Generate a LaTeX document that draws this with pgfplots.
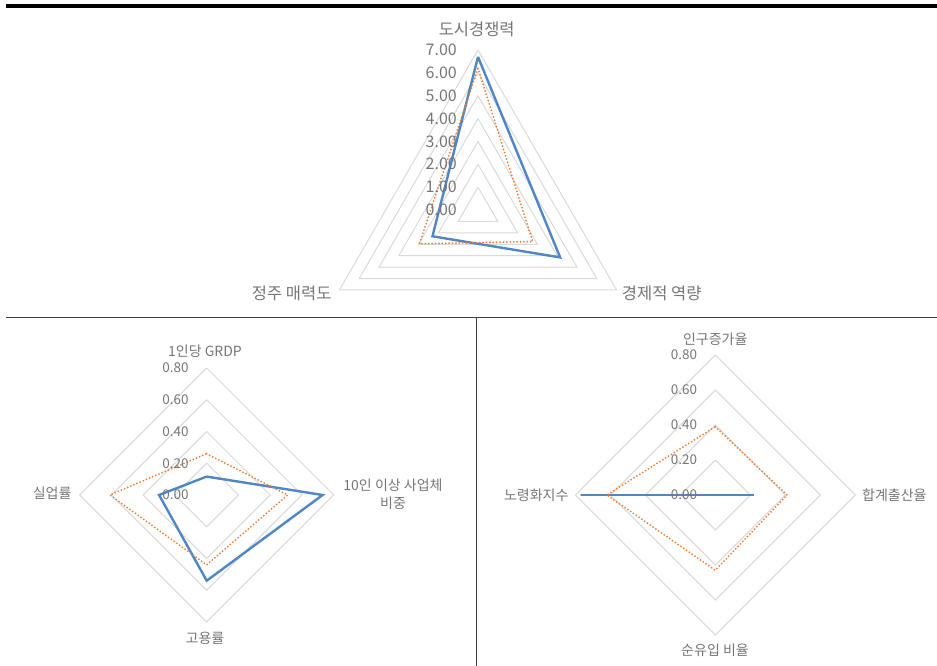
\documentclass[border=0pt]{standalone}
\usepackage{pgfplots}
\pgfplotsset{compat=1.18}
\usepgfplotslibrary{polar}
\usepackage{fontspec}
\setmainfont{Noto Sans CJK KR}
\definecolor{sblue}{HTML}{4F86C6}
\definecolor{sorange}{HTML}{ED7D31}
\definecolor{gridc}{HTML}{D9D9D9}
\definecolor{txt}{HTML}{767676}
\definecolor{framec}{HTML}{404040}
\pgfplotsset{
  radar/.style={hide axis, clip=false, anchor=center},
  gridl/.style={gridc, line width=1bp, data cs=polar, line join=miter},
  sera/.style={sblue, line width=2.4bp, data cs=polar, line join=miter},
  serb/.style={sorange, line width=2bp, data cs=polar, dash pattern=on 0pt off 3.4bp, line cap=round},
}
\tikzset{
  tlab/.style={anchor=east, inner sep=0pt, text=txt, font=\fontsize{16bp}{18bp}\selectfont, xshift=-21bp},
  blab/.style={anchor=east, inner sep=0pt, text=txt, font=\fontsize{13.5bp}{16bp}\selectfont, xshift=-18bp},
}
\begin{document}
\begin{tikzpicture}
\path[use as bounding box] (0,0) rectangle (937bp,666bp);
% frame lines
\fill[black] (6bp,658.3bp) rectangle (937bp,662bp);
\draw[framec, line width=1.5bp] (6bp,348.3bp) -- (937bp,348.3bp);
\draw[framec, line width=1.5bp] (476.7bp,348.3bp) -- (476.7bp,0bp);

% ---------- top chart ----------
\begin{axis}[radar, at={(478bp,456bp)}, x=22.857bp, y=22.857bp,
  xmin=-8, xmax=8, ymin=-8, ymax=8]
\pgfplotsinvokeforeach{1,...,7}{
  \addplot[gridl] coordinates {(90,#1) (-30,#1) (210,#1) (90,#1)};
}
\addplot[sera] coordinates {(90,6.7) (-30,4.15) (210,2.3) (90,6.7)};
\addplot[serb] coordinates {(90,6.2) (-30,2.76) (210,2.96) (90,6.2)};
\pgfplotsinvokeforeach{0,...,7}{
  \node[tlab] at (axis cs:0,#1) {#1.00};
}
\end{axis}
\begin{scope}[every node/.style={text=txt, font=\fontsize{16.5bp}{19bp}\selectfont, inner sep=0pt}]
\node at (476.7bp,636.7bp) {도시경쟁력};
\node[anchor=east] at (331.7bp,372.7bp) {정주 매력도};
\node[anchor=west] at (621.7bp,372.7bp) {경제적 역량};
\end{scope}

% ---------- bottom-left chart ----------
\begin{axis}[radar, at={(206.7bp,171bp)}, x=158.75bp, y=158.75bp,
  xmin=-1.2, xmax=1.2, ymin=-1.2, ymax=1.2]
\pgfplotsinvokeforeach{0.2,0.4,0.6,0.8}{
  \addplot[gridl] coordinates {(90,#1) (0,#1) (-90,#1) (180,#1) (90,#1)};
}
\addplot[sera] coordinates {(90,0.116) (0,0.73) (-90,0.54) (180,0.30) (90,0.116)};
\addplot[serb] coordinates {(90,0.26) (0,0.51) (-90,0.44) (180,0.61) (90,0.26)};
\node[blab] at (axis cs:0,0) {0.00};
\node[blab] at (axis cs:0,0.2) {0.20};
\node[blab] at (axis cs:0,0.4) {0.40};
\node[blab] at (axis cs:0,0.6) {0.60};
\node[blab] at (axis cs:0,0.8) {0.80};
\end{axis}
\begin{scope}[every node/.style={text=txt, font=\fontsize{14bp}{18bp}\selectfont, inner sep=0pt}]
\node at (205bp,314.3bp) {1인당 GRDP};
\node[align=center] at (393bp,172bp) {10인 이상 사업체\\비중};
\node[anchor=east] at (71.7bp,172.7bp) {실업률};
\node at (205bp,27.7bp) {고용률};
\end{scope}

% ---------- bottom-right chart ----------
\begin{axis}[radar, at={(715.3bp,171bp)}, x=175bp, y=175bp,
  xmin=-1.2, xmax=1.2, ymin=-1.2, ymax=1.2]
\pgfplotsinvokeforeach{0.2,0.4,0.6,0.8}{
  \addplot[gridl] coordinates {(90,#1) (0,#1) (-90,#1) (180,#1) (90,#1)};
}
\addplot[sera] coordinates {(90,0) (0,0.22) (-90,0) (180,0.77) (90,0)};
\addplot[serb] coordinates {(90,0.39) (0,0.41) (-90,0.43) (180,0.62) (90,0.39)};
\node[blab] at (axis cs:0,0) {0.00};
\node[blab] at (axis cs:0,0.2) {0.20};
\node[blab] at (axis cs:0,0.4) {0.40};
\node[blab] at (axis cs:0,0.6) {0.60};
\node[blab] at (axis cs:0,0.8) {0.80};
\end{axis}
\begin{scope}[every node/.style={text=txt, font=\fontsize{14bp}{18bp}\selectfont, inner sep=0pt}]
\node at (715.3bp,326.7bp) {인구증가율};
\node[anchor=west] at (862bp,171bp) {합계출산율};
\node at (715bp,16bp) {순유입 비율};
\node[anchor=east] at (568.7bp,171bp) {노령화지수};
\end{scope}
\end{tikzpicture}
\end{document}
